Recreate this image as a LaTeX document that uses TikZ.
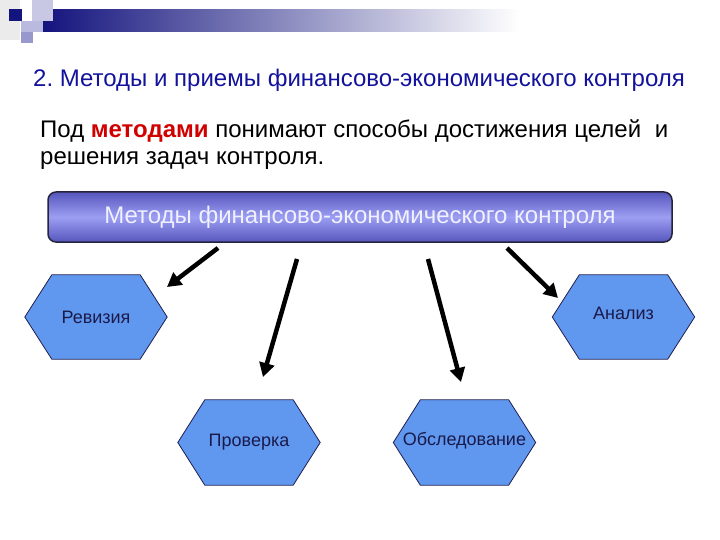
\documentclass[tikz,border=0pt]{standalone}
\usepackage{fontspec}
\setmainfont{Liberation Sans}
\usetikzlibrary{arrows.meta,backgrounds}
\definecolor{navy}{HTML}{14147E}
\definecolor{titleblue}{HTML}{12129C}
\definecolor{hexblue}{HTML}{6098F0}
\definecolor{hexline}{HTML}{1E1E50}
\definecolor{hextext}{HTML}{1A1A4A}
\definecolor{boxdark}{HTML}{5656BC}
\definecolor{boxlight}{HTML}{9C9EF2}
\definecolor{boxline}{HTML}{24243C}
\definecolor{redword}{HTML}{D00000}
\tikzset{
  hexnode/.style={minimum width=142pt,minimum height=84pt,inner sep=0pt,
    text=hextext,font=\fontsize{18}{21}\selectfont},
  hexshape/.style={fill=hexblue,draw=hexline,line width=0.8pt},
  bigarrow/.style={line width=4.5pt,-{Triangle[length=14pt,width=15pt]}},
}
\begin{document}
\frenchspacing
\begin{tikzpicture}[x=1pt,y=-1pt]
\useasboundingbox (0,0) rectangle (720,540);
% header decoration
\fill[black!8] (0,0) rectangle (20,40);
\fill[left color=navy,right color=white] (43,10) rectangle (520,32);
\fill[color={rgb,255:red,200;green,200;blue,228}] (32,0) rectangle (53,21);
\fill[color={rgb,255:red,186;green,186;blue,222}] (21,21) rectangle (43,32);
\fill[color={rgb,255:red,152;green,152;blue,204}] (21,32) rectangle (33,43);
\fill[navy] (9,9) rectangle (22,21);
% title
\node[anchor=base,inner sep=0pt,text=titleblue,font=\fontsize{24}{28}\selectfont] (title) at (359,87)
  {2. Методы и приемы финансово-экономического контроля};
% body text
\node[anchor=base west,align=left,font=\fontsize{24}{27}\selectfont,inner sep=0pt] (body) at (40,165)
  {Под \textcolor{redword}{\textbf{методами}} понимают способы достижения целей\hspace{7pt} и\\
   решения задач контроля.};
% main box
\node[draw=boxline,line width=1.5pt,rounded corners=8pt,
  top color=boxdark,bottom color=boxdark,middle color=boxlight,
  minimum width=624pt,minimum height=50pt,inner sep=0pt,
  text={rgb,255:red,240;green,240;blue,255},font=\fontsize{24}{28}\selectfont]
  (main) at (360,217) {Методы финансово-экономического контроля};
% hexagon nodes
\node[hexnode] (rev) at (96,317) {Ревизия};
\node[hexnode] (ana) at (623.5,317) {\raisebox{8pt}{Анализ}};
\node[hexnode,minimum height=85pt] (pro) at (249,442.5) {\raisebox{-7pt}{Проверка}};
\node[hexnode,minimum height=85pt] (obs) at (464.5,442.5) {\raisebox{7pt}{Обследование}};
\begin{scope}[on background layer]
\foreach \n in {rev,ana,pro,obs}
  \draw[hexshape] (\n.west) -- ([xshift=27pt]\n.north west) -- ([xshift=-27pt]\n.north east)
    -- (\n.east) -- ([xshift=-27pt]\n.south east) -- ([xshift=27pt]\n.south west) -- cycle;
\end{scope}
% arrows
\coordinate (s1) at (218,248); \coordinate (e1) at (167,287);
\coordinate (s2) at (297,259); \coordinate (e2) at (263,377);
\coordinate (s3) at (428,259); \coordinate (e3) at (461,382);
\coordinate (s4) at (507,248); \coordinate (e4) at (558,298);
\draw[bigarrow] (s1) -- (e1);
\draw[bigarrow] (s2) -- (e2);
\draw[bigarrow] (s3) -- (e3);
\draw[bigarrow] (s4) -- (e4);
\end{tikzpicture}
\end{document}
